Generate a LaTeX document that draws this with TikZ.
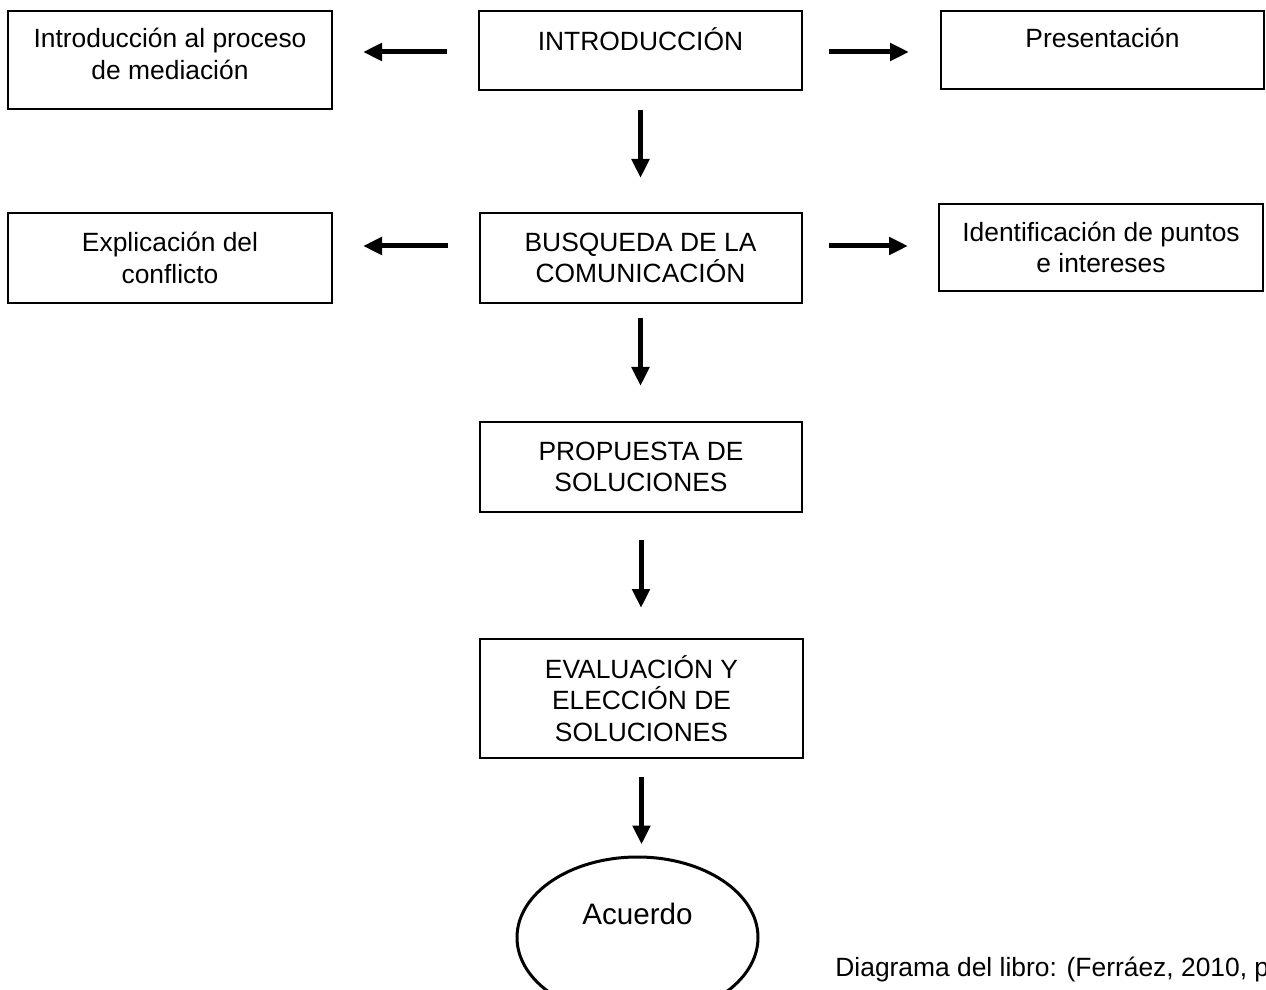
\documentclass[tikz,border=0pt]{standalone}
\usepackage{fontspec}
\setmainfont{Liberation Sans}
\usetikzlibrary{arrows.meta,shapes.geometric}
\tikzstyle{step-box} = [draw=black, line width=1pt, rectangle,
    align=center, inner sep=0pt, font=\fontsize{13.2}{15.8}\selectfont]
\tikzstyle{flow-arrow} = [line width=2.5pt, -{Triangle[length=9.5pt,width=8.5pt]}]
\tikzstyle{end-ellipse} = [draw=black, line width=1.5pt, ellipse, inner sep=0pt,
    minimum width=120.5pt, minimum height=80.5pt, font=\fontsize{14.8}{17}\selectfont]

\begin{document}
\begin{tikzpicture}[x=0.5pt,y=-0.5pt]
\useasboundingbox (0,0) rectangle (1266,990);
\node [step-box, minimum width=162pt, minimum height=49pt] (proceso) at (170,60)
    {Introducción al proceso\\de mediación\\[-9.8pt]\mbox{}};
\node [step-box, minimum width=161.5pt, minimum height=39.5pt] (intro) at (640.5,50.5)
    {INTRODUCCIÓN\\[-4pt]\mbox{}};
\node [step-box, minimum width=161.5pt, minimum height=39pt] (present) at (1102.5,50.5)
    {Presentación\\[-3pt]\mbox{}};
\node [step-box, minimum width=162pt, minimum height=45pt] (explic) at (170,258)
    {Explicación del\\conflicto};
\node [step-box, minimum width=161pt, minimum height=45pt] (busq) at (640.5,258)
    {BUSQUEDA DE LA\\COMUNICACIÓN};
\node [step-box, minimum width=162pt, minimum height=43.5pt] (ident) at (1101,247.5)
    {Identificación de puntos\\e intereses};
\node [step-box, minimum width=161pt, minimum height=45pt] (prop) at (641,467)
    {PROPUESTA DE\\SOLUCIONES};
\node [step-box, minimum width=161.5pt, minimum height=59.5pt] (eval) at (641.5,698.5)
    {EVALUACIÓN Y\\ELECCIÓN DE\\SOLUCIONES};
\node [end-ellipse] (acuerdo) at (637.5,937.5) {\raisebox{24pt}{Acuerdo}};
\node [anchor=west, inner sep=0pt, font=\fontsize{13.2}{15.8}\selectfont] (nota) at (835,970)
    {Diagrama del libro: (Ferráez, 2010, p};

\draw [flow-arrow, shorten <=15.5pt, shorten >=15pt] ([yshift=-0.75pt]intro.west) -- ([yshift=-0.75pt]intro.west -| proceso.east);
\draw [flow-arrow, shorten <=13pt, shorten >=15.5pt] ([yshift=-0.75pt]intro.east) -- ([yshift=-0.75pt]intro.east -| present.west);
\draw [flow-arrow, shorten <=9.5pt, shorten >=17pt] (intro.south) -- (intro.south |- busq.north);
\draw [flow-arrow, shorten <=15.5pt, shorten >=15pt] ([yshift=6pt]busq.west) -- ([yshift=6pt]busq.west -| explic.east);
\draw [flow-arrow, shorten <=13pt, shorten >=15pt] ([yshift=6pt]busq.east) -- ([yshift=6pt]busq.east -| ident.west);
\draw [flow-arrow, shorten <=7pt, shorten >=17.5pt] (busq.south) -- (busq.south |- prop.north);
\draw [flow-arrow, shorten <=13.5pt, shorten >=15pt] (prop.south) -- (prop.south |- eval.north);
\draw [flow-arrow, shorten <=9pt, shorten >=5.5pt] (eval.south) -- (eval.south |- acuerdo.north);
\end{tikzpicture}
\end{document}
